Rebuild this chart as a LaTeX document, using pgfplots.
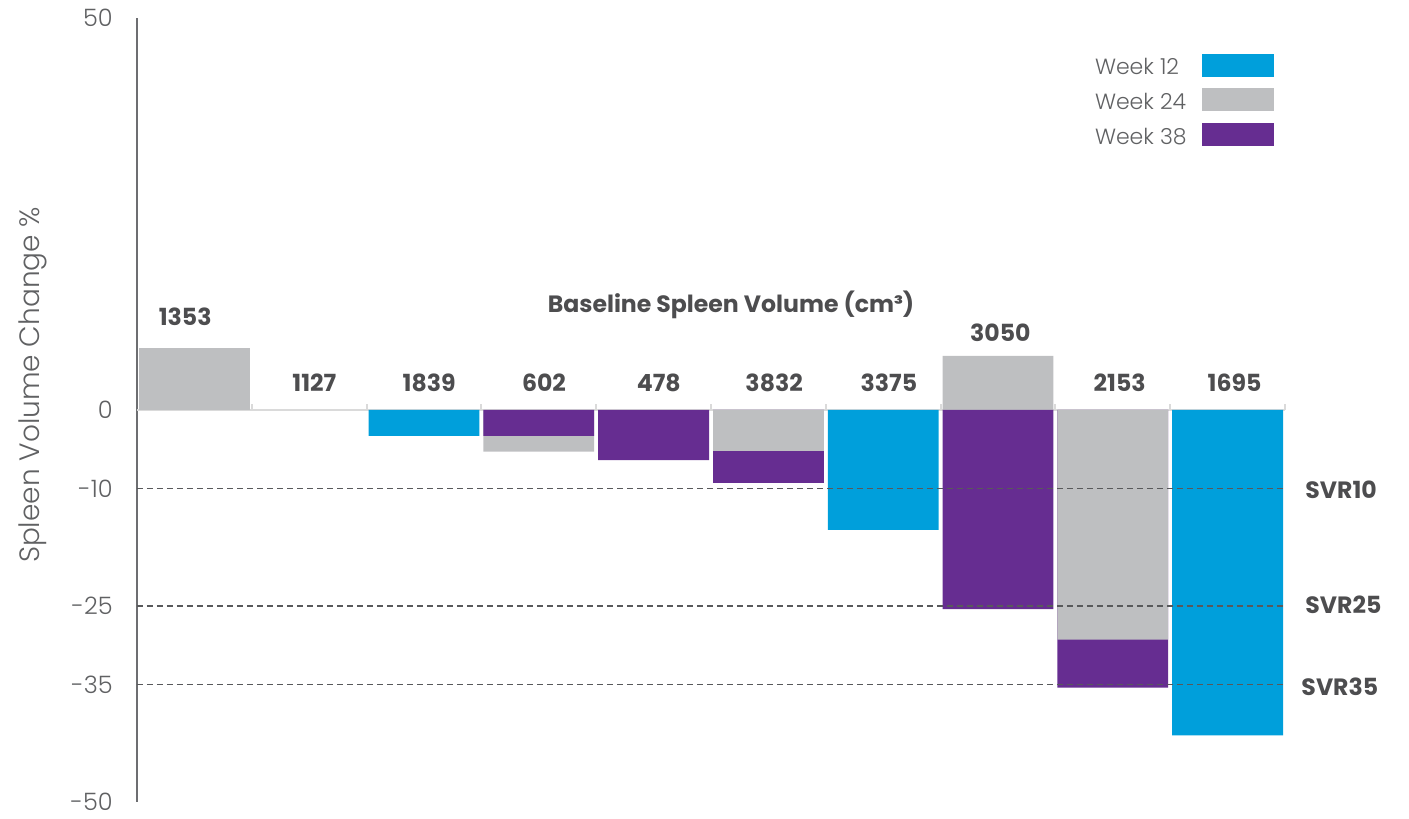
\documentclass[border=0pt]{standalone}
\usepackage{pgfplots}
\pgfplotsset{compat=1.18}
\usepackage{fontspec}
\setmainfont{Poppins}
\newfontfamily\plight{Poppins Light}
\newfontfamily\pbold{Poppins Bold}
\definecolor{wblue}{HTML}{009FDB}
\definecolor{wgray}{HTML}{BEBFC1}
\definecolor{wpurple}{HTML}{662D91}
\definecolor{txtdark}{HTML}{4D4D4F}
\definecolor{txtlight}{HTML}{606163}
\definecolor{axgray}{HTML}{6D6E71}
\definecolor{zgray}{HTML}{DADADA}
\definecolor{dashgray}{HTML}{58595B}
\pgfplotsset{
  mybar/.style={ybar, bar width=0.965, bar shift=0pt, draw=none, fill=#1, forget plot},
}
\tikzset{
  lbl/.style={font=\pbold\fontsize{11.8}{14}\selectfont, text=txtdark, anchor=base, inner sep=0pt},
}
\begin{document}
\begin{tikzpicture}
\begin{axis}[
  at={(0,0)}, anchor=south west,
  scale only axis, width=574pt, height=392pt,
  xmin=-0.5, xmax=9.5, ymin=-50, ymax=50,
  axis y line*=left, axis x line=none,
  y axis line style={draw=axgray, line width=1pt},
  ytick={-50,-35,-25,-10,0,50},
  major tick length=0pt,
  /pgf/number format/assume math mode=true,
  yticklabel style={font=\plight\fontsize{12}{14}\selectfont, text=txtlight, inner sep=0pt, xshift=-12pt},
  ylabel={Spleen Volume Change \%},
  ylabel style={font=\plight\fontsize{14}{16}\selectfont, text=txtlight, at={(axis description cs:-0.0906,0.532)}, anchor=center},
  clip=false,
  legend style={draw=none, fill=none, at={(0.9904,0.955)}, anchor=north east, inner sep=0pt,
    row sep=5.25pt, column sep=7.5pt, font=\plight\fontsize{11}{12}\selectfont, text=txtlight,
    nodes={inner sep=0pt}},
  legend plot pos=right,
  legend cell align=left,
  legend image code/.code={\fill[#1] (0pt,-4.25pt) rectangle (36pt,7.25pt);},
]
\addlegendimage{fill=wblue, draw=none}
\addlegendentry{Week 12}
\addlegendimage{fill=wgray, draw=none}
\addlegendentry{Week 24}
\addlegendimage{fill=wpurple, draw=none}
\addlegendentry{Week 38}

% zero line with category ticks
\draw[zgray, line width=1.2pt] (axis cs:-0.5,0) -- (axis cs:9.5,0);
\pgfplotsinvokeforeach{0.5,1.5,2.5,3.5,4.5,5.5,6.5,7.5,8.5,9.5}{
  \draw[zgray, line width=1pt] (axis cs:#1,0) -- ++(0pt,3pt);
}

% Week 38 (behind Week 24 in these categories)
\addplot[mybar=wpurple] coordinates {(5,-9.3) (8,-35.4)};
% Week 24
\addplot[mybar=wgray] coordinates {(0,7.9) (3,-5.3) (5,-5.2) (7,6.9) (8,-29.3)};
% Week 38
\addplot[mybar=wpurple] coordinates {(3,-3.3) (4,-6.4) (7,-25.4)};
% Week 12
\addplot[mybar=wblue] coordinates {(2,-3.3) (6,-15.3) (9,-41.5)};

% SVR thresholds
\draw[dashgray, line width=0.7pt, dash pattern=on 3pt off 2pt] (axis cs:-0.5,-10) -- (axis cs:9.48,-10);
\draw[dashgray, line width=0.7pt, dash pattern=on 3pt off 2pt] (axis cs:-0.5,-25) -- (axis cs:9.48,-25);
\draw[dashgray, line width=0.7pt, dash pattern=on 3pt off 2pt] (axis cs:-0.5,-35) -- (axis cs:9.48,-35);
\node[lbl, anchor=base west] at (axis cs:9.674,-11.35) {SVR10};
\node[lbl, anchor=base west] at (axis cs:9.674,-26.0) {SVR25};
\node[lbl, anchor=base west] at (axis cs:9.64,-36.4) {SVR35};

% baseline spleen volume labels
\node[lbl] at (axis cs:4.674,12.4) {Baseline Spleen Volume (cm³)};
\node[lbl] at (axis cs:-0.08,10.8) {1353};
\node[lbl] at (axis cs:1.045,2.3) {1127};
\node[lbl] at (axis cs:2.045,2.3) {1839};
\node[lbl] at (axis cs:3.045,2.3) {602};
\node[lbl] at (axis cs:4.045,2.3) {478};
\node[lbl] at (axis cs:5.05,2.3) {3832};
\node[lbl] at (axis cs:6.05,2.3) {3375};
\node[lbl] at (axis cs:7.02,8.8) {3050};
\node[lbl] at (axis cs:8.06,2.3) {2153};
\node[lbl] at (axis cs:9.06,2.3) {1695};
\end{axis}
\pgfresetboundingbox
\path[use as bounding box] (-68.5pt,-8.5pt) rectangle (636pt,401pt);
\end{tikzpicture}
\end{document}
